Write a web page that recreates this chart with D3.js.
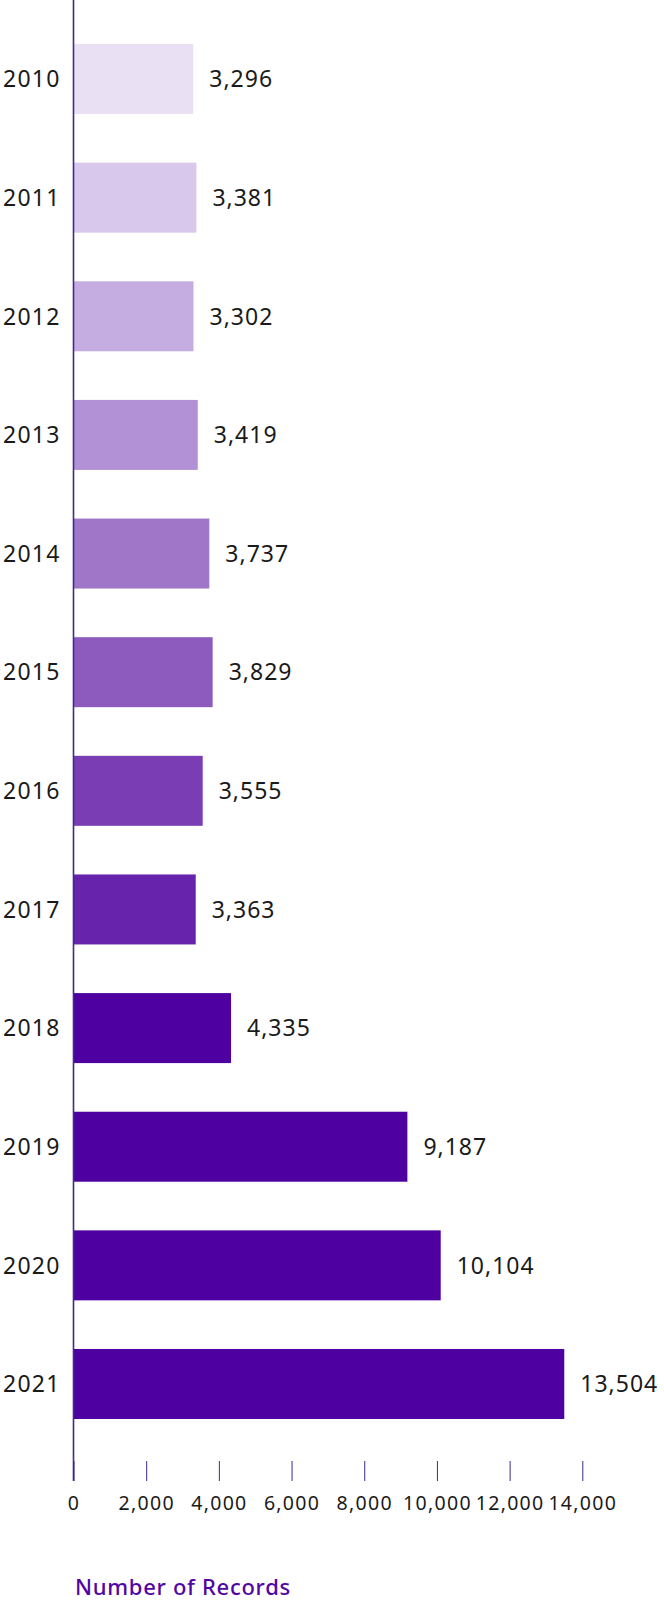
<!DOCTYPE html>
<html>
<head>
<meta charset="utf-8">
<script src="https://cdn.jsdelivr.net/npm/d3@7/dist/d3.min.js"></script>
<style>
  html, body { margin: 0; padding: 0; background: #ffffff; }
  svg { display: block; }
  text { font-family: "Noto Sans", "Open Sans", sans-serif; }
</style>
</head>
<body>
<script>
const years = ["2010","2011","2012","2013","2014","2015","2016","2017","2018","2019","2020","2021"];
const records = [3296, 3381, 3302, 3419, 3737, 3829, 3555, 3363, 4335, 9187, 10104, 13504];
const barColors = ["#e9e0f4","#d8c8eb","#c6ade1","#b391d6","#a077c8","#8d5bbe","#7a3db4","#6723ab","#4f00a0","#4f00a0","#4f00a0","#4f00a0"];
const xTicks = [0, 2000, 4000, 6000, 8000, 10000, 12000, 14000];
const axisTitle = "Number of Records";

const W = 664, H = 1601;
const x0 = 73.5, axisY = 1481;

const svg = d3.select("body").append("svg").attr("width", W).attr("height", H);

const x = d3.scaleLinear().domain([0, 14000]).range([x0, 582.3]);
const y = d3.scaleBand().domain(years).range([0, 1463]).paddingInner(0.41).paddingOuter(0.371);

const data = years.map((yr, i) => ({ year: yr, value: records[i], color: barColors[i] }));

// bars
svg.append("g").selectAll("rect").data(data).join("rect")
  .attr("x", x(0))
  .attr("y", d => y(d.year))
  .attr("width", d => x(d.value) - x(0))
  .attr("height", y.bandwidth())
  .attr("fill", d => d.color);

// value labels
svg.append("g").selectAll("text").data(data).join("text")
  .attr("x", d => x(d.value) + 16)
  .attr("y", d => y(d.year) + y.bandwidth() / 2)
  .attr("dy", "0.36em")
  .attr("font-size", 23)
  .attr("letter-spacing", "1px")
  .attr("fill", "#1a1a1a")
  .text(d => d3.format(",")(d.value));

// year labels
svg.append("g").selectAll("text").data(data).join("text")
  .attr("x", x0 - 13)
  .attr("y", d => y(d.year) + y.bandwidth() / 2)
  .attr("dy", "0.36em")
  .attr("text-anchor", "end")
  .attr("font-size", 23)
  .attr("letter-spacing", "1.2px")
  .attr("fill", "#1a1a1a")
  .text(d => d.year);

// vertical axis line
svg.append("line")
  .attr("x1", x0).attr("x2", x0)
  .attr("y1", 0).attr("y2", axisY)
  .attr("stroke", "#3d2b8e").attr("stroke-width", 1.6);

// x axis
const xAxis = d3.axisBottom(x).tickValues(xTicks).tickFormat(d3.format(","))
  .tickSizeInner(-20).tickSizeOuter(0).tickPadding(15);
const gx = svg.append("g").attr("transform", `translate(0,${axisY})`).call(xAxis);
gx.select(".domain").remove();
gx.selectAll(".tick line").attr("stroke", "#3d2b8e").attr("stroke-width", 1);
gx.selectAll(".tick text")
  .attr("font-size", 19.5)
  .attr("letter-spacing", "1.3px")
  .attr("fill", "#1a1a1a")
  .attr("font-family", "\"Noto Sans\", sans-serif");

// axis title
svg.append("text")
  .attr("x", 75)
  .attr("y", 1595)
  .attr("font-size", 22)
  .attr("font-weight", 500)
  .attr("letter-spacing", "0.7px")
  .attr("fill", "#5206a3")
  .text(axisTitle);
</script>
</body>
</html>
